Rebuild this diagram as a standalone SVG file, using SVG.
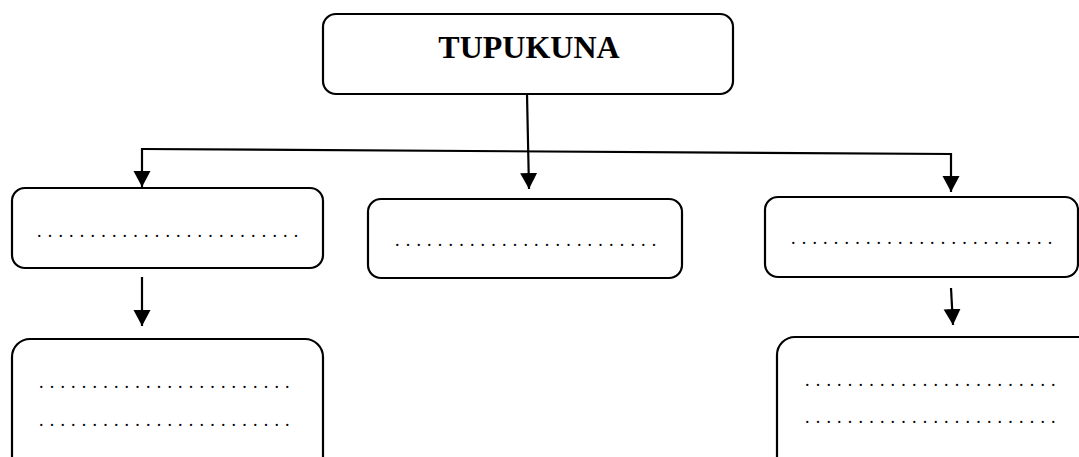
<svg xmlns="http://www.w3.org/2000/svg" width="1079" height="457" viewBox="0 0 1079 457">
<style>
.box{fill:#fff;stroke:#000;stroke-width:2.2}
.dots{font-family:"Liberation Serif",serif;font-size:18px;letter-spacing:6.2px;fill:#000}
.title{font-family:"Liberation Serif",serif;font-size:32px;font-weight:bold;fill:#000;text-anchor:middle}
.conn{fill:none;stroke:#000;stroke-width:2.2}
</style>
<defs>
<marker id="ah" markerUnits="userSpaceOnUse" markerWidth="18" markerHeight="18" refX="16" refY="8.5" orient="auto">
<path d="M0,0 L16,8.5 L0,17 Z" fill="#000"/>
</marker>
</defs>
<rect width="1079" height="457" fill="#fff"/>
<g id="connectors">
<line class="conn" x1="527" y1="94" x2="529" y2="189" marker-end="url(#ah)"/>
<polyline class="conn" points="142,149 951,154 951,192" marker-end="url(#ah)"/>
<line class="conn" x1="142" y1="148" x2="142" y2="187" marker-end="url(#ah)"/>
<line class="conn" x1="142" y1="277" x2="142" y2="326" marker-end="url(#ah)"/>
<line class="conn" x1="951" y1="288" x2="953" y2="325" marker-end="url(#ah)"/>
</g>
<g id="top">
<rect class="box" x="323" y="14" width="410" height="80" rx="13"/>
<text class="title" x="529" y="58">TUPUKUNA</text>
</g>
<g id="left1">
<rect class="box" x="12" y="188" width="311" height="80" rx="13"/>
<text class="dots" x="37" y="237">.........................</text>
</g>
<g id="middle">
<rect class="box" x="368" y="199" width="314" height="79" rx="13"/>
<text class="dots" x="395" y="246">.........................</text>
</g>
<g id="right1">
<rect class="box" x="765" y="197" width="313" height="80" rx="13"/>
<text class="dots" x="791" y="244">.........................</text>
</g>
<g id="left2">
<rect class="box" x="12" y="339" width="311" height="140" rx="18"/>
<text class="dots" x="39" y="388">........................</text>
<text class="dots" x="39" y="426">........................</text>
</g>
<g id="right2">
<rect class="box" x="777" y="337" width="320" height="140" rx="18"/>
<text class="dots" x="805" y="386">........................</text>
<text class="dots" x="805" y="423">........................</text>
</g>
</svg>
